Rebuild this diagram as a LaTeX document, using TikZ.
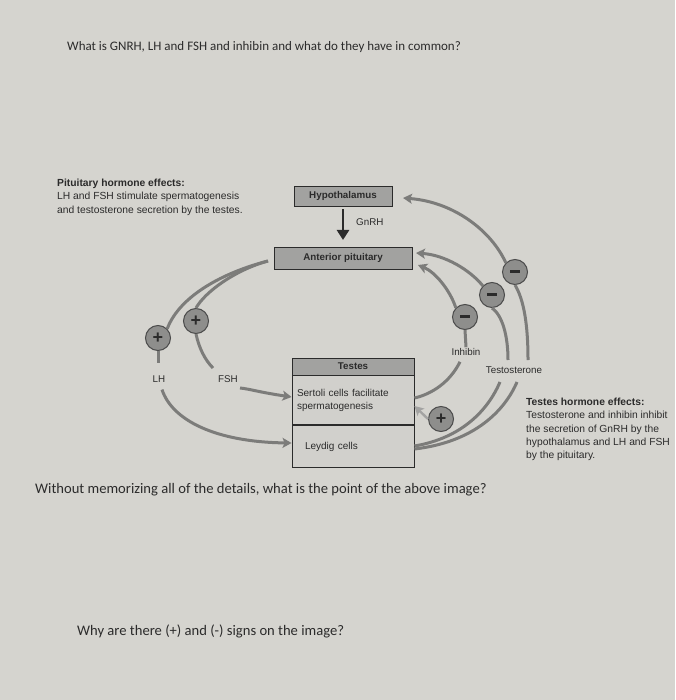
\documentclass[tikz,border=0pt]{standalone}
\usepackage{fontspec}
\setmainfont{Carlito}
\newfontfamily\arial{Liberation Sans}
\usetikzlibrary{arrows.meta}
\definecolor{paper}{HTML}{D5D4CF}
\definecolor{ink}{HTML}{2B2B2B}
\definecolor{curve}{HTML}{7C7C7A}
\definecolor{boxfill}{HTML}{A2A2A0}
\definecolor{cellfill}{HTML}{D1D0CC}
\definecolor{signfill}{HTML}{8E8E8C}
\tikzset{
  title/.style={font=\fontsize{13}{15}\selectfont, text=ink, inner sep=0pt},
  question/.style={font=\fontsize{14.6}{17}\selectfont, text=ink, inner sep=0pt},
  smalltext/.style={font=\arial\fontsize{10.3}{13.3}\selectfont, text=ink, inner sep=0pt, align=left},
  label/.style={font=\arial\fontsize{9.8}{11}\selectfont, text=ink, inner sep=1pt},
  organ/.style={draw=ink, line width=0.9pt, fill=boxfill, inner sep=0pt,
                font=\arial\bfseries\fontsize{9.8}{11}\selectfont, text=ink},
  cellbox/.style={draw=ink, line width=0.9pt, fill=cellfill, inner sep=0pt,
                font=\arial\fontsize{10}{13}\selectfont, text=ink},
  sign/.style={circle, draw=ink!85, line width=1pt, fill=signfill, minimum size=25pt, inner sep=0pt,
               font=\arial\bfseries\fontsize{18}{18}\selectfont, text=ink},
  flow/.style={draw=curve, line width=3pt},
  flowarrow/.style={flow, -{Stealth[length=9pt,width=10pt,inset=2pt]}},
}
\begin{document}
\begin{tikzpicture}[x=1pt,y=-1pt]
\fill[paper] (0,0) rectangle (675,700);
\useasboundingbox (0,0) rectangle (675,700);

% questions
\node[title, anchor=west] (q1) at (67,47) {What is GNRH, LH and FSH and inhibin and what do they have in common?};
\node[question, anchor=west] (q2) at (35,490) {Without memorizing all of the details, what is the point of the above image?};
\node[question, anchor=west] (q3) at (77,631) {Why are there (+) and (-) signs on the image?};

% side texts
\node[smalltext, anchor=north west] (pitfx) at (57,179)
  {\textbf{Pituitary hormone effects:}\\LH and FSH stimulate spermatogenesis\\and testosterone secretion by the testes.};
\node[smalltext, anchor=north west] (tesfx) at (526,398)
  {\textbf{Testes hormone effects:}\\Testosterone and inhibin inhibit\\the secretion of GnRH by the\\hypothalamus and LH and FSH\\by the pituitary.};

% organs
\node[organ, minimum width=98pt, minimum height=20pt] (hypo) at (343,196) {Hypothalamus};
\node[organ, minimum width=138pt, minimum height=22pt] (pit) at (343,258) {Anterior pituitary};
\node[organ, minimum width=122pt, minimum height=17pt] (testes) at (353,366.5) {Testes};
\node[cellbox, minimum width=122pt, minimum height=49pt, text width=112pt, align=left, anchor=north] (sertoli) at (testes.south)
  {Sertoli cells facilitate\\spermatogenesis};
\node[cellbox, minimum width=122pt, minimum height=42pt, text width=112pt, align=left, anchor=north] (leydig) at (sertoli.south)
  {\hspace*{8pt}Leydig cells};

% GnRH
\draw[draw=ink, line width=2.6pt, -{Triangle[length=10pt,width=12pt]}] (hypo.south) ++(0,3) coordinate (g0) -- (343,240) coordinate (g1);
\node[label, anchor=west] (gnrh) at (355,222) {GnRH};

% labels
\node[label] (lh) at (159,379) {LH};
\node[label] (fsh) at (228,379) {FSH};
\node[label] (inh) at (466,352) {Inhibin};
\node[label] (testo) at (514,370) {Testosterone};

% signs
\node[sign] (plh) at (158,338) {+};
\node[sign] (pfsh) at (196,321) {+};
\node[sign] (m1) at (515,272) {\raisebox{1pt}{\rule{10pt}{2.4pt}}};
\node[sign] (m2) at (492,295) {\raisebox{1pt}{\rule{10pt}{2.4pt}}};
\node[sign] (m3) at (465,317) {\raisebox{1pt}{\rule{10pt}{2.4pt}}};
\node[sign] (pser) at (441,419) {+};

% pituitary to testes (LH, FSH)
\coordinate (pstart) at (268,261);
\draw[flow] (pstart) .. controls (225,272) and (180,295) .. (plh.north east);
\draw[flow] (plh.south) -- ++(0,12);
\draw[flowarrow] (lh.south) ++(3,6) .. controls (172,420) and (215,442) .. (leydig.west |- 0,443);
\draw[flow] (pstart) .. controls (235,270) and (205,292) .. (pfsh.north);
\draw[flow] (pfsh.south) .. controls (199,348) and (205,360) .. (213,368);
\draw[flowarrow] (240,388) .. controls (250,389) and (258,392) .. (sertoli.west |- 0,397);

% feedback: testosterone to hypothalamus
\coordinate (hyin) at (403,198);
\draw[flowarrow] (m1.north west) .. controls (492,232) and (455,202) .. (hyin);
\draw[flow] (528,360) .. controls (528,325) and (524,300) .. (m1.south);
% testosterone to pituitary
\coordinate (pin1) at (416,253);
\draw[flowarrow] (m2.north west) .. controls (470,270) and (445,255) .. (pin1);
\draw[flow] (508,360) .. controls (508,335) and (502,315) .. (m2.south);
% inhibin to pituitary
\coordinate (pin2) at (418,265);
\draw[flowarrow] (m3.north west) .. controls (450,290) and (435,272) .. (pin2);
\draw[flow] (m3.south) -- (inh.north);

% from testes
\draw[flow] (inh.south) ++(-6,5) .. controls (450,382) and (432,394) .. (sertoli.east |- 0,398);
\draw[flow] (leydig.east |- 0,446) .. controls (462,438) and (488,410) .. (500,382);
\draw[flow] (leydig.east |- 0,449) .. controls (475,442) and (505,410) .. (517,382);
\draw[draw=curve!70, line width=2.4pt, -{Stealth[length=9pt,width=10pt,inset=2pt]}] (pser.west) -- (sertoli.east |- 0,406);
\end{tikzpicture}
\end{document}
